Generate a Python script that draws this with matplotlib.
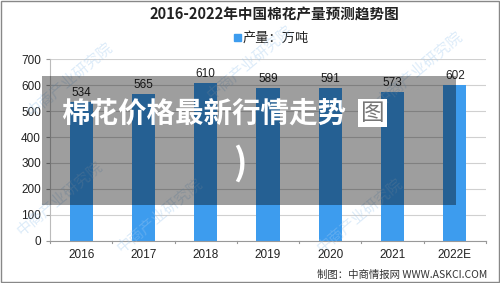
import matplotlib
matplotlib.use("Agg")
import matplotlib.pyplot as plt
from matplotlib.patches import Rectangle

plt.rcParams['font.family'] = ['Noto Sans CJK SC', 'DejaVu Sans']

years = ["2016", "2017", "2018", "2019", "2020", "2021", "2022E"]
output = [534, 565, 610, 589, 591, 573, 602]
title = "2016-2022年中国棉花产量预测趋势图"
legend_label = "产量：万吨"
source = "制图：中商情报网 WWW.ASKCI.COM"
overlay_text = "棉花价格最新行情走势"

BLUE = "#3d9cee"

fig = plt.figure(figsize=(5, 2.83), dpi=100)
ax = fig.add_axes([0.1, 0.150, 0.872, 0.640])

x = range(len(years))
bars = ax.bar(x, output, width=0.37, color=BLUE, zorder=2)
for b, v in zip(bars, output):
    ax.text(b.get_x() + b.get_width() / 2, v + 12, str(v), ha="center", va="bottom",
            fontsize=8.5, color="#222222", family=["Liberation Sans"])

ax.set_xlim(-0.5, len(years) - 0.5)
ax.set_ylim(0, 700)
ax.set_yticks(range(0, 701, 100))
ax.set_xticks(list(x))
ax.set_xticklabels(years, fontsize=8.5, family=["Liberation Sans"], color="#222222")
ax.tick_params(axis="y", labelsize=8.5, colors="#222222", length=3, color="#999999")
for lbl in ax.get_yticklabels():
    lbl.set_family(["Liberation Sans"])
ax.tick_params(axis="x", length=0, pad=6)
# category separator ticks
for i in range(len(years) + 1):
    ax.plot([i - 0.5, i - 0.5], [0, -10], color="#999999", lw=0.8, clip_on=False)
ax.grid(True, axis="y", color="#d0d0d0", lw=0.8, zorder=0)
for s in ["top", "right"]:
    ax.spines[s].set_visible(False)
ax.spines["left"].set_color("#bbbbbb")
ax.spines["bottom"].set_color("#999999")

fig.text(0.548, 0.948, title, ha="center", va="center", fontsize=10.5, fontweight="bold", color="#222222")
fig.patches.append(Rectangle((0.468, 0.855), 0.014, 0.024, transform=fig.transFigure, color=BLUE))
fig.text(0.486, 0.866, legend_label, ha="left", va="center", fontsize=9.5, color="#222222")
fig.text(0.975, 0.028, source, ha="right", va="center", fontsize=7.5, color="#333333")

# watermarks
for wx, wy in [(0.14, 0.72), (0.5, 0.78), (0.84, 0.76), (0.32, 0.24), (0.72, 0.24), (0.12, 0.3)]:
    fig.text(wx, wy, "中商产业研究院", rotation=40, ha="center", va="center",
             fontsize=11, color="#9ec8ee", alpha=0.35)

# gray overlay with white caption
fig.patches.append(Rectangle((0.084, 0.276), 0.828, 0.457, transform=fig.transFigure,
                             facecolor="black", alpha=0.38, zorder=5))
fig.text(0.122, 0.6, overlay_text, ha="left", va="center", fontsize=20.5, fontweight="black",
         color="white", zorder=6)
fig.text(0.745, 0.6, "图", ha="center", va="center", fontsize=17, color="#777777", zorder=6,
         bbox=dict(boxstyle="square,pad=0.1", facecolor="white", edgecolor="none"))
fig.text(0.48, 0.42, ")", ha="center", va="center", fontsize=26, fontweight="bold",
         color="white", zorder=6)

fig.patches.append(Rectangle((0.002, 0.004), 0.996, 0.992, transform=fig.transFigure,
                             fill=False, edgecolor="#888888", lw=1))

fig.savefig("out.png", dpi=100)
